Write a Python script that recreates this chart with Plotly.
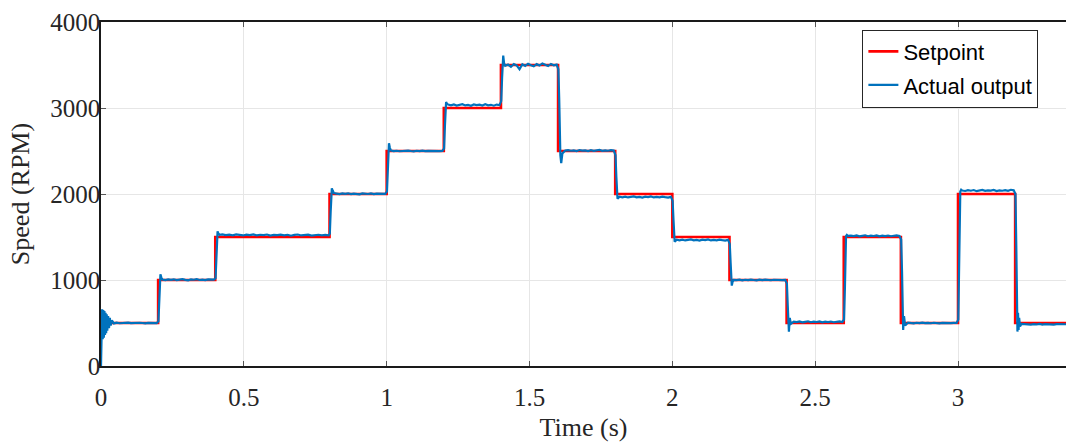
import plotly.graph_objects as go

# ---------------- data ----------------
# Setpoint (step profile)
sp_time = [0.0, 0.2, 0.4, 0.8, 1.0, 1.2, 1.4, 1.6, 1.8, 2.0, 2.2, 2.4, 2.6, 2.8, 3.0, 3.2, 3.4]
sp_rpm = [500, 1000, 1500, 2000, 2500, 3000, 3500, 2500, 2000, 1500, 1000, 500, 1500, 500, 2000, 500, 500]

# Actual output, read segment by segment
seg0_t = [0.000, 0.002, 0.004, 0.006, 0.008, 0.010, 0.012, 0.014, 0.016, 0.018, 0.020, 0.022,
          0.025, 0.028, 0.031, 0.034, 0.038, 0.045, 0.055, 0.065, 0.075, 0.085, 0.095, 0.105,
          0.115, 0.125, 0.135, 0.145, 0.155, 0.165, 0.175, 0.185, 0.195]
seg0_v = [0, 420, 660, 310, 650, 330, 640, 360, 620, 380, 600, 410,
          580, 440, 560, 470, 530, 495, 503, 497, 502, 499, 504, 498,
          501, 497, 503, 500, 496, 502, 499, 503, 498]

seg2_t = [0.401, 0.404, 0.406, 0.408, 0.411, 0.415, 0.425, 0.437, 0.449, 0.461, 0.473, 0.485,
          0.497, 0.509, 0.521, 0.533, 0.545, 0.557, 0.569, 0.581, 0.593, 0.605, 0.617, 0.629,
          0.641, 0.653, 0.665, 0.677, 0.689, 0.701, 0.713, 0.725, 0.737, 0.749, 0.761, 0.773,
          0.785, 0.797]
seg2_v = [1020, 1300, 1490, 1565, 1540, 1525, 1530, 1522, 1528, 1520, 1531, 1524,
          1518, 1527, 1522, 1530, 1519, 1526, 1523, 1529, 1517, 1525, 1521, 1528,
          1520, 1526, 1515, 1524, 1529, 1518, 1523, 1527, 1516, 1522, 1526, 1519,
          1524, 1520]

# 0.2 s segments share one sampling pattern (offsets from the step time)
step_offsets = [0.001, 0.004, 0.006, 0.008, 0.011, 0.015, 0.025, 0.035, 0.045, 0.055, 0.065, 0.075,
                0.085, 0.095, 0.105, 0.115, 0.125, 0.135, 0.145, 0.155, 0.165, 0.175, 0.185, 0.195]
short_seg_starts = [0.2, 0.8, 1.0, 1.2, 1.4, 1.6, 1.8, 2.0, 2.2, 2.4, 2.6, 2.8, 3.0]
short_seg_values = [
    [520, 800, 990, 1065, 1030, 1005, 998, 1006, 1001, 1008, 999, 1004, 1010, 1002, 997, 1006, 1003, 1009, 1000, 1005, 998, 1007, 1002, 1004],
    [1540, 1800, 1990, 2065, 2040, 2012, 2005, 1998, 2006, 2001, 2008, 1999, 2004, 2002, 1997, 2006, 2003, 2000, 2007, 1999, 2004, 2001, 2006, 2002],
    [2030, 2300, 2480, 2590, 2540, 2505, 2498, 2503, 2497, 2502, 2499, 2505, 2500, 2496, 2503, 2499, 2504, 2498, 2502, 2500, 2497, 2503, 2499, 2501],
    [2530, 2800, 2990, 3070, 3050, 3040, 3032, 3042, 3028, 3038, 3045, 3030, 3036, 3026, 3041, 3033, 3039, 3029, 3044, 3031, 3037, 3027, 3040, 3034],
    [3080, 3350, 3510, 3610, 3520, 3490, 3505, 3480, 3512, 3495, 3450, 3508, 3490, 3515, 3498, 3485, 3510, 3494, 3518, 3500, 3488, 3512, 3496, 3505],
    [3450, 3100, 2700, 2450, 2360, 2470, 2505, 2510, 2503, 2508, 2500, 2511, 2504, 2507, 2499, 2509, 2502, 2506, 2512, 2501, 2508, 2503, 2510, 2505],
    [2450, 2200, 2010, 1945, 1955, 1968, 1962, 1970, 1960, 1966, 1972, 1961, 1967, 1958, 1969, 1963, 1971, 1960, 1966, 1962, 1970, 1964, 1959, 1967],
    [1920, 1700, 1510, 1445, 1455, 1468, 1462, 1470, 1460, 1466, 1472, 1461, 1467, 1458, 1469, 1463, 1471, 1460, 1466, 1462, 1470, 1464, 1459, 1467],
    [1420, 1200, 1010, 935, 980, 1002, 998, 1004, 997, 1003, 999, 1005, 1000, 996, 1003, 998, 1004, 1001, 997, 1003, 999, 1002, 998, 1001],
    [960, 700, 520, 400, 560, 490, 515, 510, 518, 508, 514, 520, 509, 516, 512, 519, 507, 515, 511, 517, 509, 514, 518, 512],
    [540, 900, 1400, 1510, 1525, 1512, 1515, 1510, 1518, 1508, 1514, 1520, 1509, 1516, 1512, 1519, 1507, 1515, 1511, 1517, 1509, 1514, 1518, 1512],
    [1470, 1100, 600, 420, 580, 470, 505, 500, 496, 503, 499, 504, 498, 501, 497, 503, 500, 496, 502, 499, 503, 498, 501, 500],
    [540, 1100, 1800, 2030, 2050, 2040, 2035, 2044, 2038, 2046, 2033, 2041, 2048, 2036, 2043, 2039, 2047, 2034, 2042, 2038, 2045, 2037, 2049, 2043],
]

seg15_t = [3.201, 3.204, 3.206, 3.208, 3.210, 3.212, 3.214, 3.217, 3.222, 3.235, 3.245, 3.255,
           3.265, 3.275, 3.285, 3.295, 3.305, 3.315, 3.325, 3.335, 3.345, 3.355, 3.365, 3.375, 3.385]
seg15_v = [2000, 1400, 700, 400, 620, 420, 560, 460, 490, 484, 488, 481,
           487, 483, 489, 482, 486, 484, 488, 481, 487, 485, 483, 486, 485]

x_tick_vals = [0, 0.5, 1, 1.5, 2, 2.5, 3]
x_tick_text = ["0", "0.5", "1", "1.5", "2", "2.5", "3"]
y_tick_vals = [0, 1000, 2000, 3000, 4000]
y_tick_text = ["0", "1000", "2000", "3000", "4000"]

# ---------------- assemble actual output ----------------
act_t = list(seg0_t)
act_v = list(seg0_v)
for i, s in enumerate(short_seg_starts):
    if s == 0.8:
        act_t += seg2_t
        act_v += seg2_v
    vals = short_seg_values[i]
    assert len(vals) == len(step_offsets)
    act_t += [round(s + o, 4) for o in step_offsets]
    act_v += vals
act_t += seg15_t
act_v += seg15_v
assert len(act_t) == len(act_v)
pairs = sorted(zip(act_t, act_v))
act_t = [p[0] for p in pairs]
act_v = [p[1] for p in pairs]

SERIF = "Liberation Serif, Times New Roman, serif"
SANS = "Liberation Sans, Arial, sans-serif"
TXT = "#262626"

fig = go.Figure()
fig.add_trace(go.Scatter(
    x=sp_time, y=sp_rpm, mode="lines", name="Setpoint",
    line=dict(color="#FF0000", width=2.6, shape="hv"),
    legendgroup="a",
))
fig.add_trace(go.Scatter(
    x=act_t, y=act_v, mode="lines", name="Actual output",
    line=dict(color="#0072BD", width=2.2),
    legendgroup="b",
))

fig.update_layout(
    width=1066, height=446,
    margin=dict(l=101, r=0, t=22, b=80, autoexpand=False),
    paper_bgcolor="white", plot_bgcolor="white",
    showlegend=True,
    legend=dict(
        x=0.789, y=0.978, xanchor="left", yanchor="top",
        bgcolor="white", bordercolor="#262626", borderwidth=1,
        font=dict(family=SANS, size=22, color="black"),
        itemwidth=30, tracegroupgap=2, traceorder="grouped",
    ),
    xaxis=dict(
        range=[0, 3.378], tickvals=x_tick_vals, ticktext=x_tick_text,
        showgrid=True, gridcolor="#e6e6e6", gridwidth=1,
        showline=True, linecolor="#1a1a1a", linewidth=1.5, mirror="ticks",
        ticks="inside", ticklen=5, tickcolor="#555555",
        tickfont=dict(family=SERIF, size=25, color=TXT),
        ticklabelstandoff=8,
        title=dict(text="Time (s)", font=dict(family=SERIF, size=26, color=TXT), standoff=8),
        zeroline=False, automargin=False,
    ),
    yaxis=dict(
        range=[0, 4000], tickvals=y_tick_vals, ticktext=y_tick_text,
        showgrid=True, gridcolor="#e6e6e6", gridwidth=1,
        showline=True, linecolor="#1a1a1a", linewidth=1.5,
        ticks="inside", ticklen=5, tickcolor="#555555",
        tickfont=dict(family=SERIF, size=25, color=TXT),
        ticklabelstandoff=-6,
        title=dict(text="Speed (RPM)", font=dict(family=SERIF, size=26, color=TXT), standoff=13),
        zeroline=False, automargin=False,
    ),
)

fig.write_html(
    "out.html",
    config={"displayModeBar": False},
    post_script="document.body.style.margin='0';document.body.style.overflow='hidden';",
)
